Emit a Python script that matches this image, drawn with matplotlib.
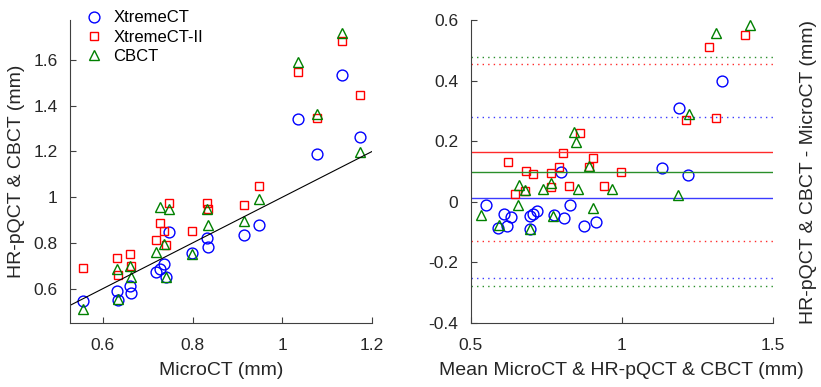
import matplotlib
matplotlib.use("Agg")
import matplotlib.pyplot as plt
import numpy as np


# MicroCT reference thickness per sample (mm)
microct = [0.557, 0.631, 0.634, 0.660, 0.662, 0.719, 0.727, 0.736, 0.741, 0.748,
           0.798, 0.833, 0.834, 0.915, 0.948, 1.034, 1.077, 1.134, 1.174]
xtremect = [0.546, 0.590, 0.549, 0.610, 0.581, 0.673, 0.687, 0.706, 0.651, 0.848,
            0.756, 0.823, 0.782, 0.836, 0.880, 1.344, 1.188, 1.533, 1.262]
xtremect2 = [0.690, 0.734, 0.661, 0.753, 0.698, 0.814, 0.887, 0.851, 0.789, 0.976,
             0.851, 0.976, 0.950, 0.967, 1.047, 1.546, 1.348, 1.683, 1.449]
cbct = [0.513, 0.687, 0.556, 0.698, 0.651, 0.760, 0.957, 0.797, 0.651, 0.947,
        0.750, 0.950, 0.877, 0.896, 0.991, 1.591, 1.366, 1.718, 1.198]

# Bland-Altman bias and limits of agreement
bias = {"XtremeCT": 0.014, "XtremeCT-II": 0.163, "CBCT": 0.099}
loa_low = {"XtremeCT": -0.253, "XtremeCT-II": -0.129, "CBCT": -0.278}
loa_high = {"XtremeCT": 0.280, "XtremeCT-II": 0.455, "CBCT": 0.477}

plt.rcParams.update({
    "font.family": ["Liberation Sans", "DejaVu Sans"],
    "font.size": 12,
    "axes.edgecolor": "#404040",
    "xtick.color": "#404040",
    "ytick.color": "#404040",
    "xtick.labelcolor": "#262626",
    "ytick.labelcolor": "#262626",
})

series = [
    ("XtremeCT", xtremect, "o", "#0000ff", 7.8, "#3b3bff"),
    ("XtremeCT-II", xtremect2, "s", "#ff0000", 6.0, "#ff2a2a"),
    ("CBCT", cbct, "^", "#008000", 7.8, "#2a8f2a"),
]

fig = plt.figure(figsize=(8.21, 3.87), dpi=100)
ax1 = fig.add_axes([70 / 821, 1 - 323 / 387, 302 / 821, 303 / 387])
ax2 = fig.add_axes([470.7 / 821, 1 - 323 / 387, 302 / 821, 303 / 387])

mc = np.array(microct)

# Left: device vs MicroCT
for name, vals, mk, col, ms, _ in series:
    ax1.plot(mc, vals, ls="none", marker=mk, mfc="none", mec=col, ms=ms, mew=1.0, label=name)
ax1.plot([0.5, 1.2], [0.5, 1.2], color="black", lw=0.8)
ax1.set_xlim(0.527, 1.2)
ax1.set_ylim(0.45, 1.775)
ax1.set_xticks([0.6, 0.8, 1.0, 1.2])
ax1.set_xticklabels(["0.6", "0.8", "1", "1.2"])
ax1.set_yticks([0.6, 0.8, 1.0, 1.2, 1.4, 1.6])
ax1.set_yticklabels(["0.6", "0.8", "1", "1.2", "1.4", "1.6"])
ax1.set_xlabel("MicroCT (mm)", fontsize=14, color="#262626", labelpad=6)
ax1.set_ylabel("HR-pQCT & CBCT (mm)", fontsize=14, color="#262626", labelpad=6)
ax1.legend(loc="upper left", bbox_to_anchor=(0.0, 1.07), frameon=False, fontsize=12,
           handletextpad=0.4, borderaxespad=0.3, labelspacing=0.25, handlelength=1.5)

# Right: Bland-Altman
for name, vals, mk, col, ms, lcol in series:
    v = np.array(vals)
    ax2.plot((mc + v) / 2, v - mc, ls="none", marker=mk, mfc="none", mec=col, ms=ms, mew=1.0)
    ax2.axhline(bias[name], color=lcol, lw=1.0)
    ax2.axhline(loa_low[name], color=lcol, lw=1.0, ls=(0, (1, 3)))
    ax2.axhline(loa_high[name], color=lcol, lw=1.0, ls=(0, (1, 3)))
ax2.set_xlim(0.5, 1.5)
ax2.set_ylim(-0.4, 0.6)
ax2.set_xticks([0.5, 1.0, 1.5])
ax2.set_xticklabels(["0.5", "1", "1.5"])
ax2.set_yticks([-0.4, -0.2, 0, 0.2, 0.4, 0.6])
ax2.set_yticklabels(["-0.4", "-0.2", "0", "0.2", "0.4", "0.6"])
ax2.set_xlabel("Mean MicroCT & HR-pQCT & CBCT (mm)", fontsize=14, color="#262626", labelpad=6)
ax2.yaxis.set_label_position("right")
ax2.set_ylabel("HR-pQCT & CBCT - MicroCT (mm)", fontsize=14, color="#262626", labelpad=20)

for ax in (ax1, ax2):
    ax.spines["top"].set_visible(False)
    ax.spines["right"].set_visible(False)
    ax.tick_params(direction="in", length=4, width=0.8, labelsize=12.5)
    ax.tick_params(axis="x", pad=11)
    ax.tick_params(axis="y", pad=9)

fig.savefig("out.png", dpi=100)
